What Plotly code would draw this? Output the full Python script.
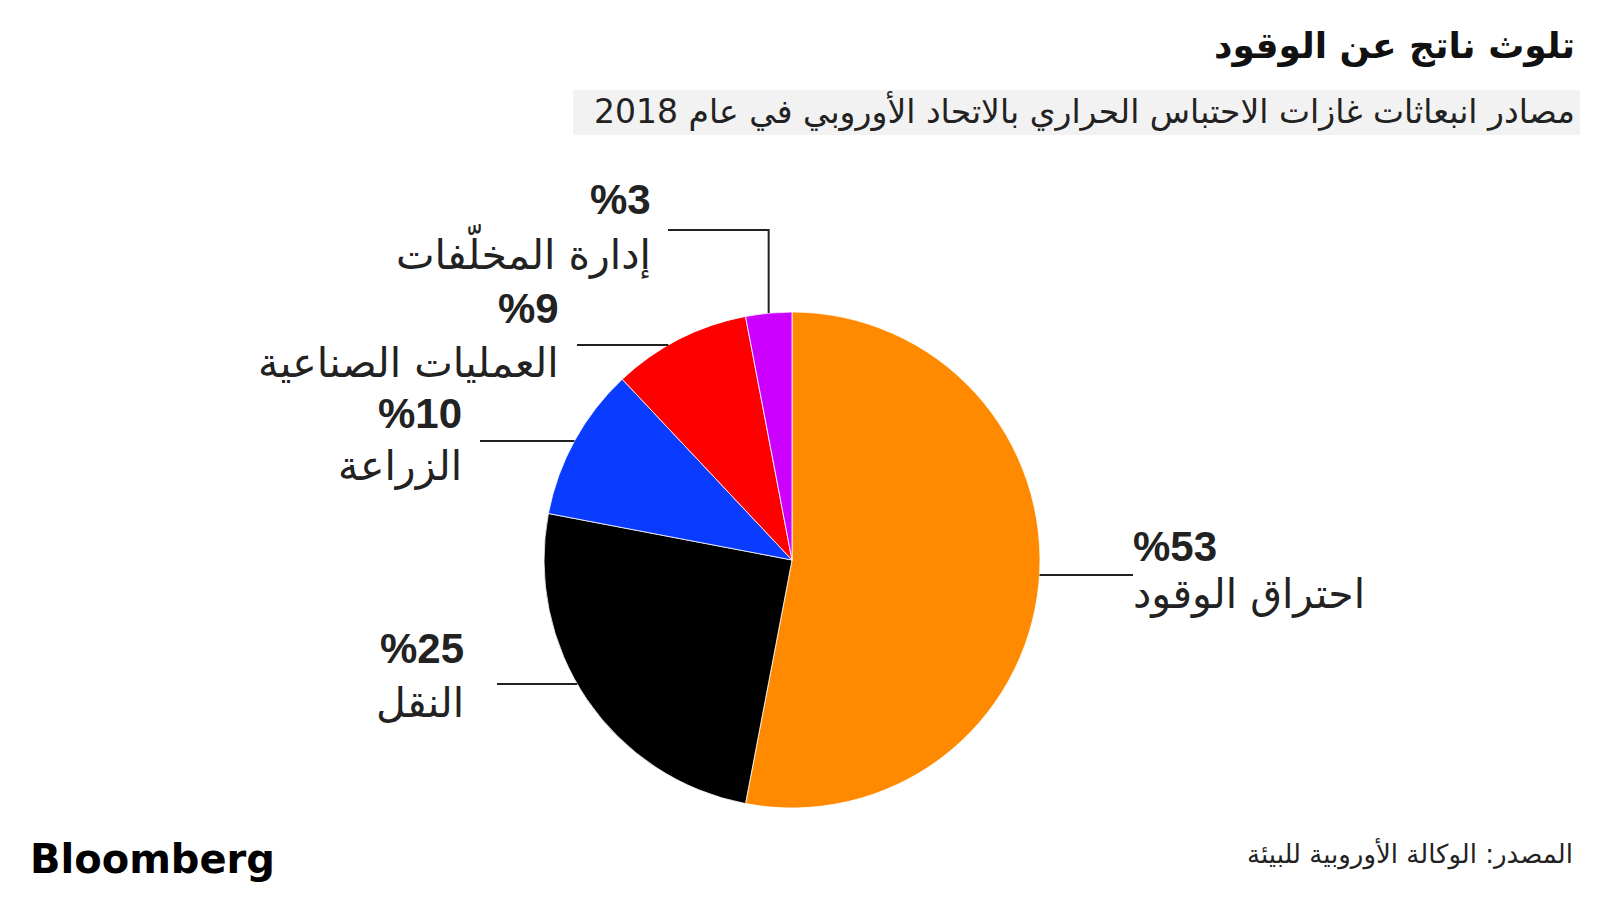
import math
import plotly.graph_objects as go

# ---- data ----
categories = ["احتراق الوقود", "النقل", "الزراعة", "العمليات الصناعية", "إدارة المخلّفات"]
shares = [53, 25, 10, 9, 3]
pct_labels = ["%53", "%25", "%10", "%9", "%3"]
colors = ["#ff8a00", "#000000", "#0a3cff", "#ff0000", "#cc00ff"]

title = "تلوث ناتج عن الوقود"
subtitle = "مصادر انبعاثات غازات الاحتباس الحراري بالاتحاد الأوروبي في عام 2018"
source = "المصدر: الوكالة الأوروبية للبيئة"

W, H = 1600, 900
CX, CY, R = 792, 560, 248

def px(x):
    return x / W

def py(y):
    return 1 - y / H

ARABIC = "DejaVu Sans"
LATIN = "Liberation Sans"
TXT = "#222222"

fig = go.Figure(go.Pie(
    labels=categories, values=shares, sort=False, direction="clockwise", rotation=0,
    marker=dict(colors=colors, line=dict(color="white", width=0.8)),
    textinfo="none", hoverinfo="label+percent", showlegend=False,
    domain=dict(x=[px(CX - R), px(CX + R)], y=[py(CY + R), py(CY - R)]),
))

# label layout: side, text anchor x, pct y, name y, line y, line end x
layout_rows = [
    ("right", 1131, 546, 594, 575, 1133),
    ("left", 466, 648, 703, 684, 497),
    ("left", 464, 413, 466, 441, 480),
    ("left", 561, 308, 363, 345, 577),
    ("elbow", 653, 199, 251, 230, 668),
]

total = sum(shares)
cum = 0
shapes = []
annotations = []
for i, (v, row) in enumerate(zip(shares, layout_rows)):
    mid = (cum + v / 2) / total * 2 * math.pi
    cum += v
    side, tx, pct_y, name_y, line_y, end_x = row
    if side == "elbow":
        sx = CX + R * math.sin(mid)
        sy = CY - math.sqrt(R * R - (sx - CX) ** 2)
        path = f"M {px(sx)} {py(sy)} L {px(sx)} {py(line_y)} L {px(end_x)} {py(line_y)}"
        shapes.append(dict(type="path", xref="paper", yref="paper", path=path,
                           line=dict(color=TXT, width=2)))
    else:
        dy = line_y - CY
        dx = math.sqrt(max(R * R - dy * dy, 0))
        sx = CX + dx if side == "right" else CX - dx
        shapes.append(dict(type="line", xref="paper", yref="paper",
                           x0=px(sx), y0=py(line_y), x1=px(end_x), y1=py(line_y),
                           line=dict(color=TXT, width=2)))
    anchor = "left" if side == "right" else "right"
    annotations.append(dict(text=pct_labels[i], x=px(tx), y=py(pct_y), xref="paper", yref="paper",
                            xanchor=anchor, yanchor="middle", showarrow=False,
                            font=dict(family=LATIN, size=42, color=TXT, weight="bold")))
    annotations.append(dict(text=categories[i], x=px(tx), y=py(name_y), xref="paper", yref="paper",
                            xanchor=anchor, yanchor="middle", showarrow=False,
                            font=dict(family=ARABIC, size=41, color=TXT)))

# subtitle band
shapes.append(dict(type="rect", xref="paper", yref="paper", layer="below",
                   x0=px(573), x1=px(1580), y0=py(135), y1=py(90),
                   fillcolor="#f2f2f2", line=dict(width=0)))

annotations += [
    dict(text=title, x=px(1577), y=py(46), xref="paper", yref="paper", xanchor="right",
         yanchor="middle", showarrow=False,
         font=dict(family=ARABIC, size=36, color="#111111", weight="bold")),
    dict(text=subtitle, x=px(1577), y=py(111), xref="paper", yref="paper", xanchor="right",
         yanchor="middle", showarrow=False, font=dict(family=ARABIC, size=33, color=TXT)),
    dict(text=source, x=px(1575), y=py(853), xref="paper", yref="paper", xanchor="right",
         yanchor="middle", showarrow=False, font=dict(family=ARABIC, size=26, color=TXT)),
    dict(text="Bloomberg", x=px(28), y=py(859), xref="paper", yref="paper", xanchor="left",
         yanchor="middle", showarrow=False,
         font=dict(family="DejaVu Sans", size=40, color="#000000", weight="bold")),
]

fig.update_layout(
    width=W, height=H, margin=dict(l=0, r=0, t=0, b=0),
    paper_bgcolor="white", plot_bgcolor="white",
    shapes=shapes, annotations=annotations,
)

fig.write_html("out.html", config={"displayModeBar": False})
